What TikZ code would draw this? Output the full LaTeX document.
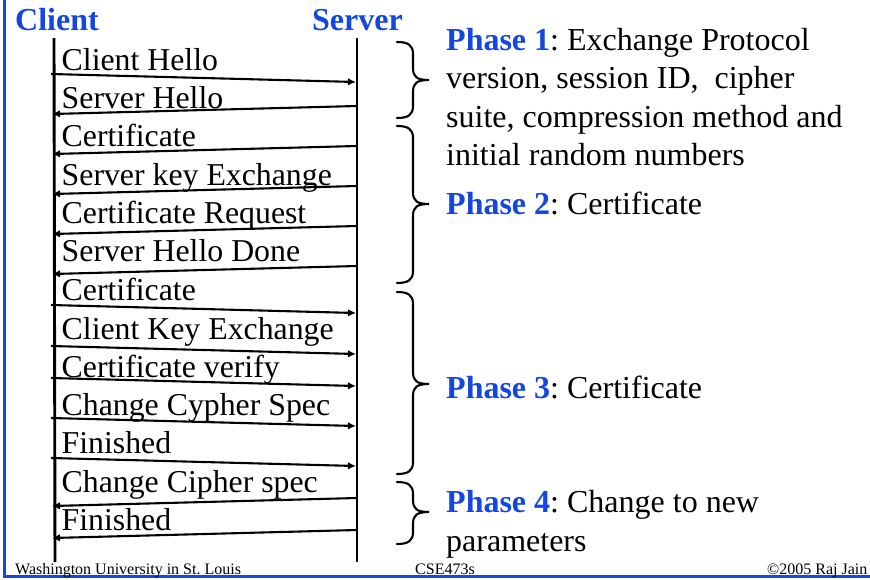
\documentclass[tikz,border=0pt]{standalone}
\usepackage{fontspec}
\setmainfont{Liberation Serif}
\usetikzlibrary{arrows.meta}
\definecolor{slideblue}{RGB}{20,70,225}
\tikzset{
  x=1pt,y=-1pt,
  msg/.style={anchor=base west,inner sep=0pt,font=\fontsize{31.8}{36}\selectfont\frenchspacing},
  head/.style={anchor=base west,inner sep=0pt,font=\fontsize{32}{36}\selectfont\bfseries,text=slideblue},
  body/.style={anchor=base west,inner sep=0pt,font=\fontsize{32}{36}\selectfont\frenchspacing},
  foot/.style={anchor=base west,inner sep=0pt,font=\fontsize{16}{18}\selectfont\frenchspacing},
  life/.style={line width=2.9pt},
  arrow/.style={line width=2.1pt,-{Latex[length=8pt,width=7.5pt]}},
  brace/.style={line width=2.1pt,line cap=round},
  frameline/.style={line width=3pt,draw=slideblue},
}
\newcommand{\phasebrace}[3]{%
  \draw[brace] (397,#1) .. controls (408,#1) and (413,#1+3) .. (413,#1+12)
    -- (413,#2-12) .. controls (413,#2-3) and (417,#2) .. (429,#2)
    .. controls (417,#2) and (413,#2+3) .. (413,#2+12)
    -- (413,#3-12) .. controls (413,#3-3) and (408,#3) .. (397,#3);}
\newcommand{\ph}[2]{\textcolor{slideblue}{\bfseries Phase #1}: #2}
\begin{document}
\begin{tikzpicture}
\useasboundingbox (0,0) rectangle (870,579);
\fill[white] (0,0) rectangle (870,579);
\draw[frameline] (4.5,0) -- (4.5,576.5) -- (870,576.5);
\node[head] (client) at (15,30) {Client};
\node[head] (server) at (312,30) {Server};
\coordinate (ct) at (54,38); \coordinate (cb) at (55,562);
\coordinate (st) at (357,38); \coordinate (sb) at (357,562);
\draw[life] (ct) -- (cb);
\draw[life] (st) -- (sb);
\foreach \n/\y/\t in {a/70/Client Hello,b/108/Server Hello,c/146/Certificate,d/185/Server key Exchange,e/223/Certificate Request,f/261/Server Hello Done,g/300/Certificate,h/339/Client Key Exchange,i/377/Certificate verify,j/415/Change Cypher Spec,k/453/Finished,l/492/Change Cipher spec,m/530/Finished}
  \node[msg] (m\n) at (61.5,\y) {\t};
\foreach \n/\y in {a/74,g/305,h/346,i/378,j/418,k/458}{
  \coordinate (l\n) at (51,\y); \coordinate (r\n) at (356,\y+8);
  \draw[arrow] (l\n) -- (r\n);}
\foreach \n/\y in {b/106,c/146,d/186,e/226,f/266,l/498,m/530}{
  \coordinate (r\n) at (357,\y); \coordinate (l\n) at (52,\y+8);
  \draw[arrow] (r\n) -- (l\n);}
\phasebrace{42}{80}{118}
\phasebrace{126}{204}{283}
\phasebrace{292}{384}{474}
\phasebrace{482}{512}{544}
\node[body] (p1) at (446,50) {\ph{1}{Exchange Protocol}};
\node[body] (p1b) at (446,88) {version, session ID,\ \ cipher};
\node[body] (p1c) at (446,127) {suite, compression method and};
\node[body] (p1d) at (446,165) {initial random numbers};
\node[body] (p2) at (446,214) {\ph{2}{Certificate}};
\node[body] (p3) at (446,398) {\ph{3}{Certificate}};
\node[body] (p4) at (446,512) {\ph{4}{Change to new}};
\node[body] (p4b) at (446,551) {parameters};
\node[foot] (f1) at (15,574) {Washington University in St. Louis};
\node[foot] (f2) at (415,574) {CSE473s};
\node[foot] (f3) at (767,574) {©2005 Raj Jain};
\end{tikzpicture}
\end{document}
